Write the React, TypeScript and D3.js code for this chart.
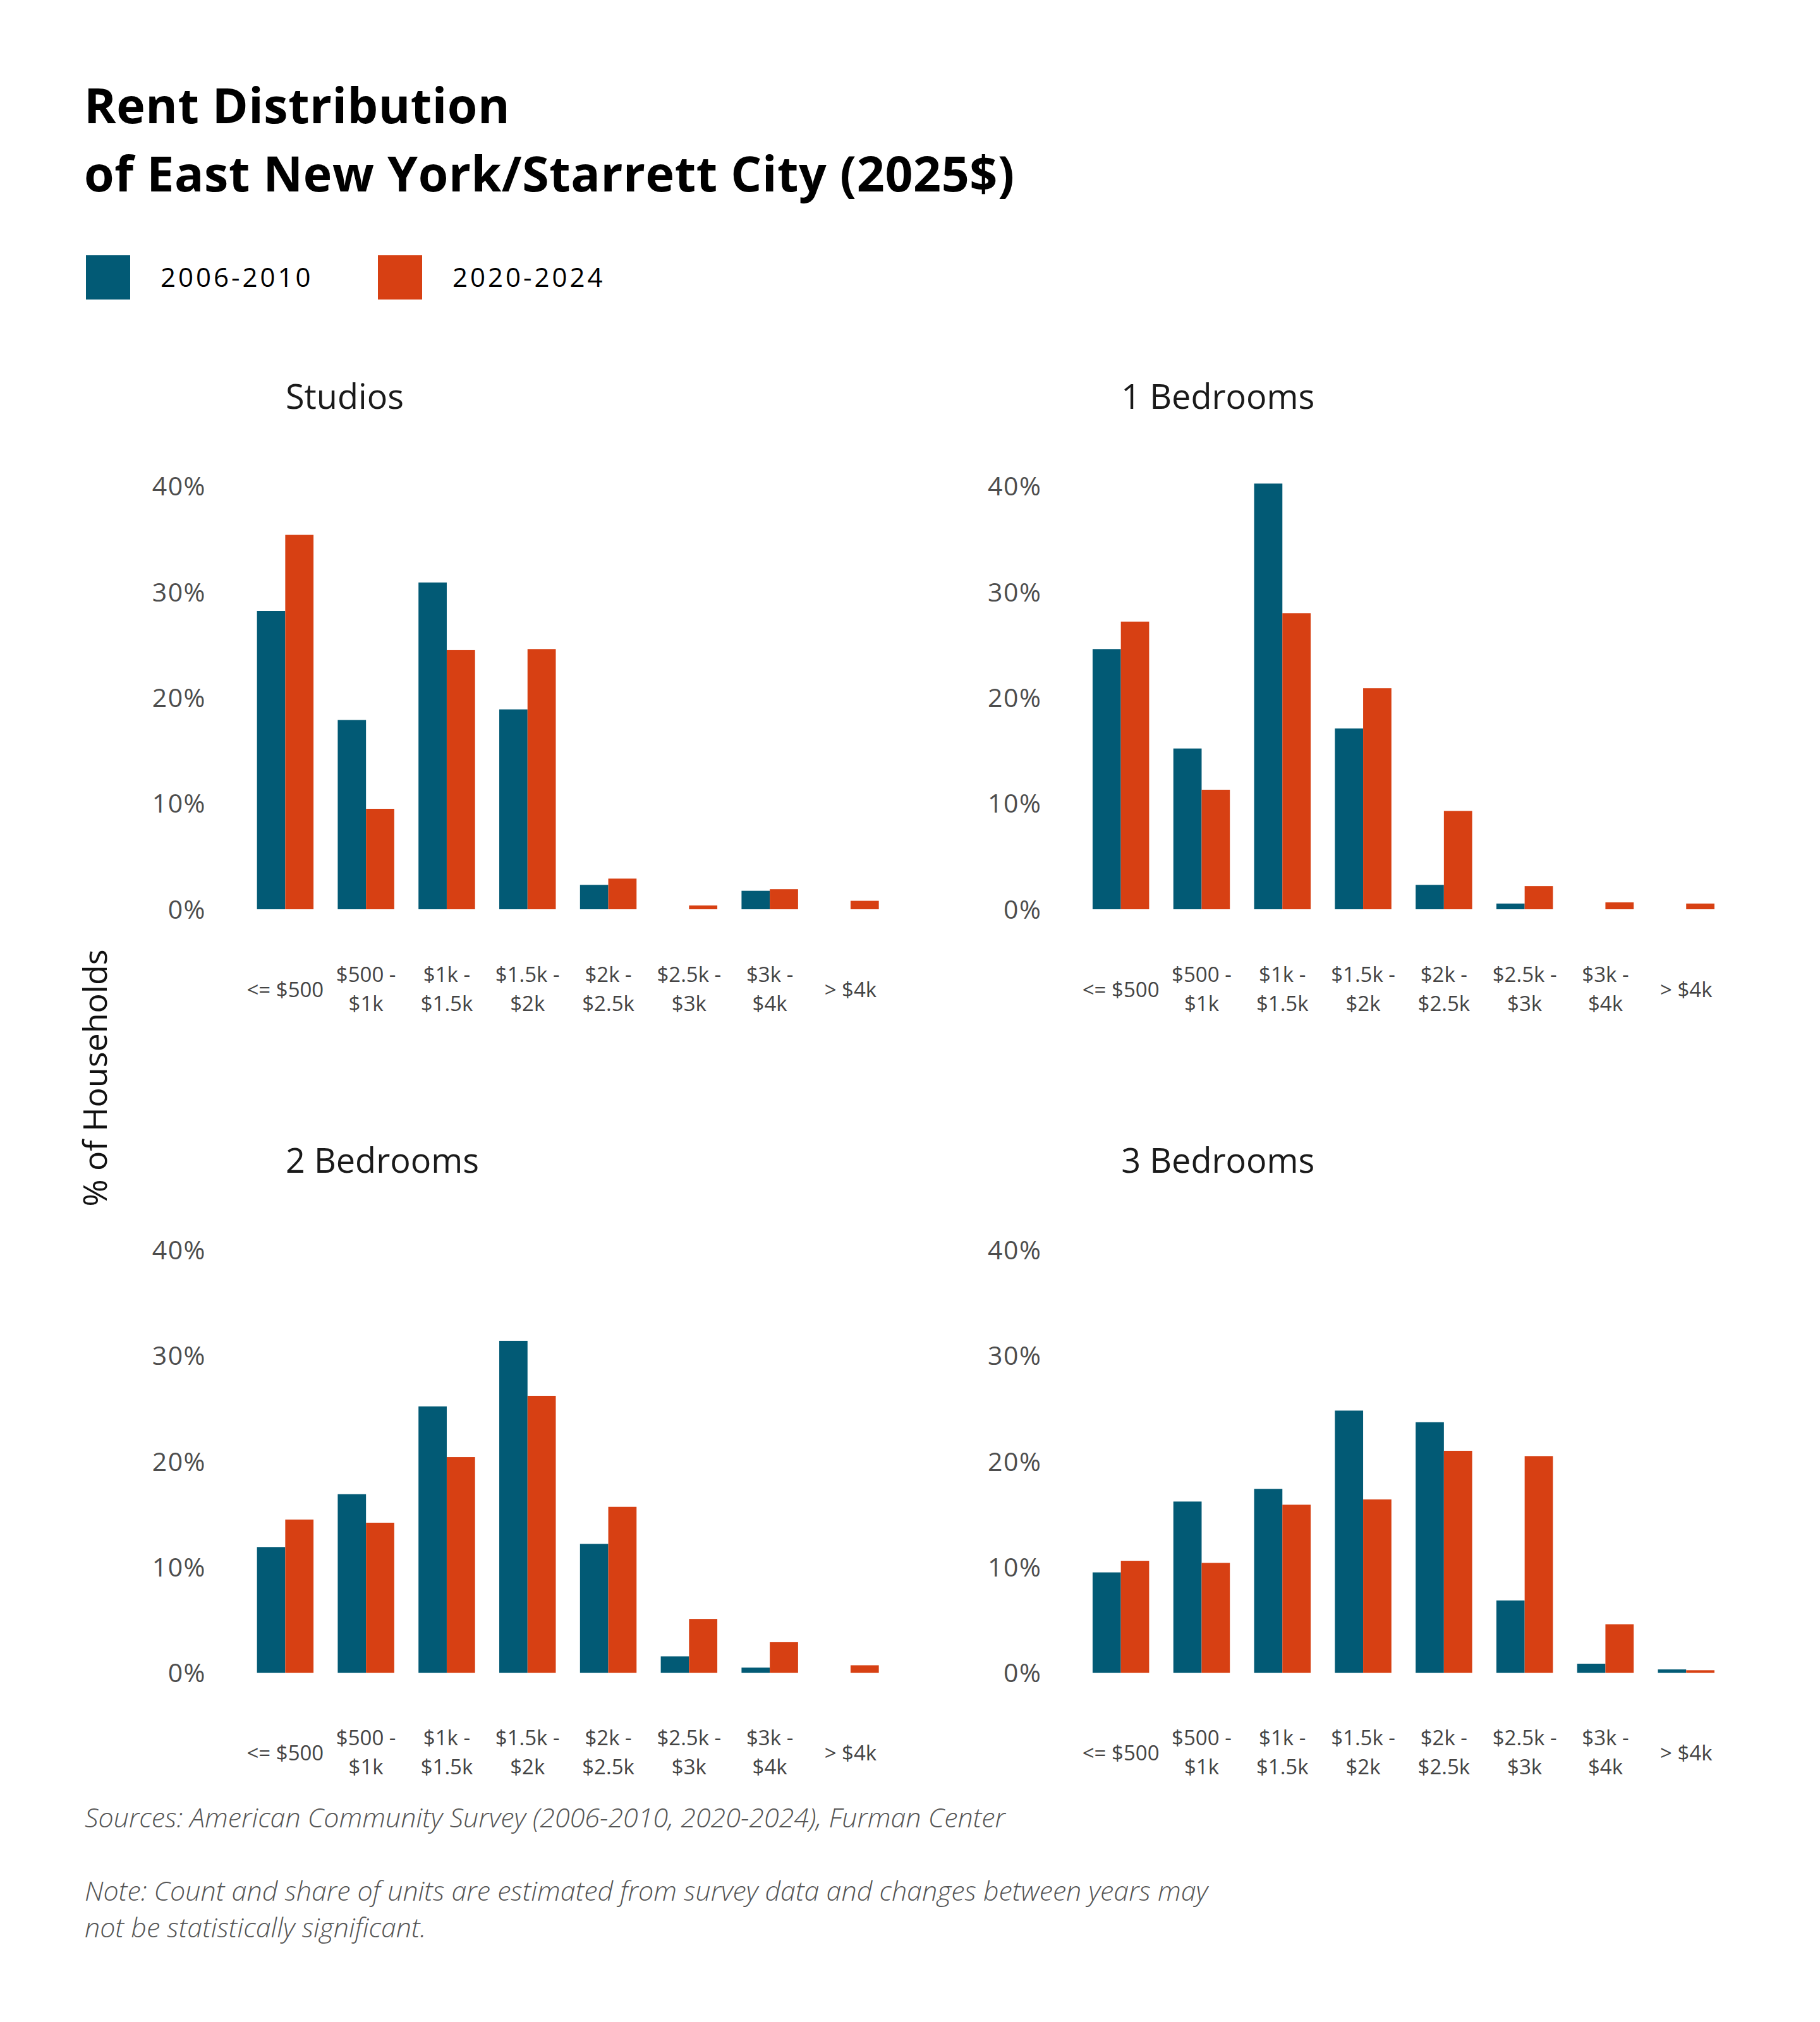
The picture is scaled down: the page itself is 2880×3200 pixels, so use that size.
import React from "react";
import * as d3 from "d3";

const categories = ["le500", "500-1k", "1k-1.5k", "1.5k-2k", "2k-2.5k", "2.5k-3k", "3k-4k", "gt4k"];
const categoryLabels: string[][] = [
  ["<= $500"],
  ["$500 -", "$1k"],
  ["$1k -", "$1.5k"],
  ["$1.5k -", "$2k"],
  ["$2k -", "$2.5k"],
  ["$2.5k -", "$3k"],
  ["$3k -", "$4k"],
  ["> $4k"],
];
const seriesNames = ["2006-2010", "2020-2024"];
const seriesColors = ["#025a75", "#d74013"];

const studios2006 = [28.2, 17.9, 30.9, 18.9, 2.3, 0, 1.75, 0];
const studios2020 = [35.4, 9.5, 24.5, 24.6, 2.9, 0.36, 1.9, 0.8];
const oneBed2006 = [24.6, 15.2, 40.25, 17.1, 2.3, 0.54, 0, 0];
const oneBed2020 = [27.2, 11.3, 28.0, 20.9, 9.3, 2.2, 0.65, 0.54];
const twoBed2006 = [11.9, 16.9, 25.2, 31.4, 12.2, 1.56, 0.5, 0];
const twoBed2020 = [14.5, 14.2, 20.4, 26.2, 15.7, 5.1, 2.9, 0.72];
const threeBed2006 = [9.5, 16.2, 17.4, 24.8, 23.7, 6.85, 0.87, 0.33];
const threeBed2020 = [10.6, 10.4, 15.9, 16.4, 21.0, 20.5, 4.6, 0.25];

const panelTitles = ["Studios", "1 Bedrooms", "2 Bedrooms", "3 Bedrooms"];
const panelSeries = [
  [studios2006, studios2020],
  [oneBed2006, oneBed2020],
  [twoBed2006, twoBed2020],
  [threeBed2006, threeBed2020],
];
const yTicks = [0, 10, 20, 30, 40];

const FONT = "'Open Sans', 'Noto Sans', sans-serif";

function Panel({ title, series, dx, dy }: { title: string; series: number[][]; dx: number; dy: number }) {
  const x = d3.scaleBand<string>().domain(categories).range([368.3, 1429]).paddingInner(0.3).paddingOuter(0.3);
  const xs = d3.scaleBand<string>().domain(seriesNames).range([0, x.bandwidth()]);
  const y = d3.scaleLinear().domain([0, 40]).range([1439, 769.5]);
  return (
    <g transform={`translate(${dx},${dy})`}>
      <text x={452} y={647} fontFamily={FONT} fontSize={54} fill="#1a1a1a">{title}</text>
      {yTicks.map((t) => (
        <text key={t} x={326} y={y(t)} dy="0.36em" textAnchor="end" fontFamily={FONT} fontSize={41}
          letterSpacing={1.5} fill="#4d4d4d">{`${t}%`}</text>
      ))}
      {categories.map((c, i) => (
        <g key={c}>
          {series.map((s, k) => {
            const v = s[i];
            if (!v) return null;
            return (
              <rect key={k} x={(x(c) as number) + (xs(seriesNames[k]) as number)} y={y(v)}
                width={xs.bandwidth()} height={y(0) - y(v)} fill={seriesColors[k]} />
            );
          })}
          {categoryLabels[i].map((ln, j, arr) => {
            const cy = arr.length === 1 ? 1566 : 1542 + j * 46;
            return (
              <text key={j} x={(x(c) as number) + x.bandwidth() / 2} y={cy} dy="0.36em" textAnchor="middle"
                fontFamily={FONT} fontSize={33} fill="#444">{ln}</text>
            );
          })}
        </g>
      ))}
    </g>
  );
}

export default function App() {
  return (
    <svg width={2880} height={3200} style={{ position: "absolute", left: 0, top: 0, background: "#fff" }}>
      <rect width={2880} height={3200} fill="#fff" />
      <text x={133} y={195} fontFamily={FONT} fontWeight={700} fontSize={77} letterSpacing={0.5} fill="#000">Rent Distribution</text>
      <text x={133} y={303} fontFamily={FONT} fontWeight={700} fontSize={77} letterSpacing={0.6} fill="#000">of East New York/Starrett City (2025$)</text>
      {seriesNames.map((n, i) => (
        <g key={n} transform={`translate(${136 + i * 462},404)`}>
          <rect width={70} height={70} fill={seriesColors[i]} />
          <text x={118} y={35} dy="0.36em" fontFamily={FONT} fontSize={42} letterSpacing={4} fill="#000">{n}</text>
        </g>
      ))}
      {panelTitles.map((t, i) => (
        <Panel key={t} title={t} series={panelSeries[i]} dx={(i % 2) * 1322.3} dy={Math.floor(i / 2) * 1208.5} />
      ))}
      <text transform="translate(169,1706) rotate(-90)" textAnchor="middle" fontFamily={FONT} fontSize={52} fill="#111">% of Households</text>
      <text x={134} y={2892} fontFamily={FONT} fontStyle="italic" fontWeight={300} fontSize={43} fill="#555">
        Sources: American Community Survey (2006-2010, 2020-2024), Furman Center
      </text>
      <text x={134} y={3008} fontFamily={FONT} fontStyle="italic" fontWeight={300} fontSize={43} fill="#555">
        Note: Count and share of units are estimated from survey data and changes between years may
      </text>
      <text x={134} y={3066} fontFamily={FONT} fontStyle="italic" fontWeight={300} fontSize={43} fill="#555">
        not be statistically significant.
      </text>
    </svg>
  );
}
